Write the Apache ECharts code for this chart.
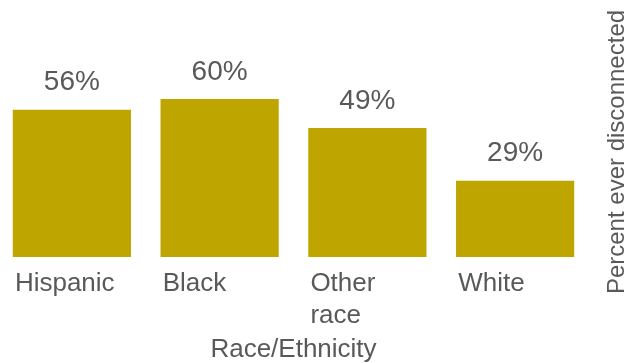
<!DOCTYPE html>
<html>
<head>
<meta charset="utf-8">
<script src="https://cdn.jsdelivr.net/npm/echarts@6/dist/echarts.min.js"></script>
<style>
  html, body { margin: 0; padding: 0; background: #fff; }
  #main { width: 632px; height: 363px; }
</style>
</head>
<body>
<div id="main"></div>
<script>
// data
var categories = ['Hispanic', 'Black', 'Other\nrace', 'White'];
var percentDisconnected = [56, 60, 49, 29];

var textColor = '#595959';
var font = '"Liberation Sans", Arial, Helvetica, sans-serif';

var myChart = echarts.init(document.getElementById('main'));
myChart.setOption({
  animation: false,
  grid: { left: -2, right: 43, top: 7, bottom: 106, containLabel: false, outerBoundsMode: 'none' },
  xAxis: {
    type: 'category',
    data: categories,
    name: 'Race/Ethnicity',
    nameLocation: 'middle',
    nameGap: 80,
    nameTextStyle: { color: textColor, fontSize: 26, fontFamily: font, lineHeight: 26 },
    axisLine: { show: false },
    axisTick: { show: false },
    axisLabel: {
      interval: 0,
      color: textColor,
      fontSize: 26,
      fontFamily: font,
      lineHeight: 32,
      margin: 11,
      align: 'left',
      // shift label from band centre to the bar's left edge
      padding: [0, 0, 0, -57]
    }
  },
  yAxis: {
    type: 'value',
    min: 0,
    max: 95,
    show: false
  },
  // y axis title sits on the right, reading upwards
  graphic: [{
    type: 'text',
    x: 617,
    y: 152,
    rotation: Math.PI / 2,
    style: {
      text: 'Percent ever disconnected',
      fill: textColor,
      font: '24px ' + font,
      textAlign: 'center',
      textVerticalAlign: 'middle'
    }
  }],
  series: [{
    type: 'bar',
    data: percentDisconnected,
    barCategoryGap: '20%',
    itemStyle: { color: '#bea500' },
    label: {
      show: true,
      position: 'top',
      distance: 13,
      formatter: '{c}%',
      color: textColor,
      fontSize: 28,
      fontFamily: font,
      lineHeight: 28
    }
  }]
});
</script>
</body>
</html>
